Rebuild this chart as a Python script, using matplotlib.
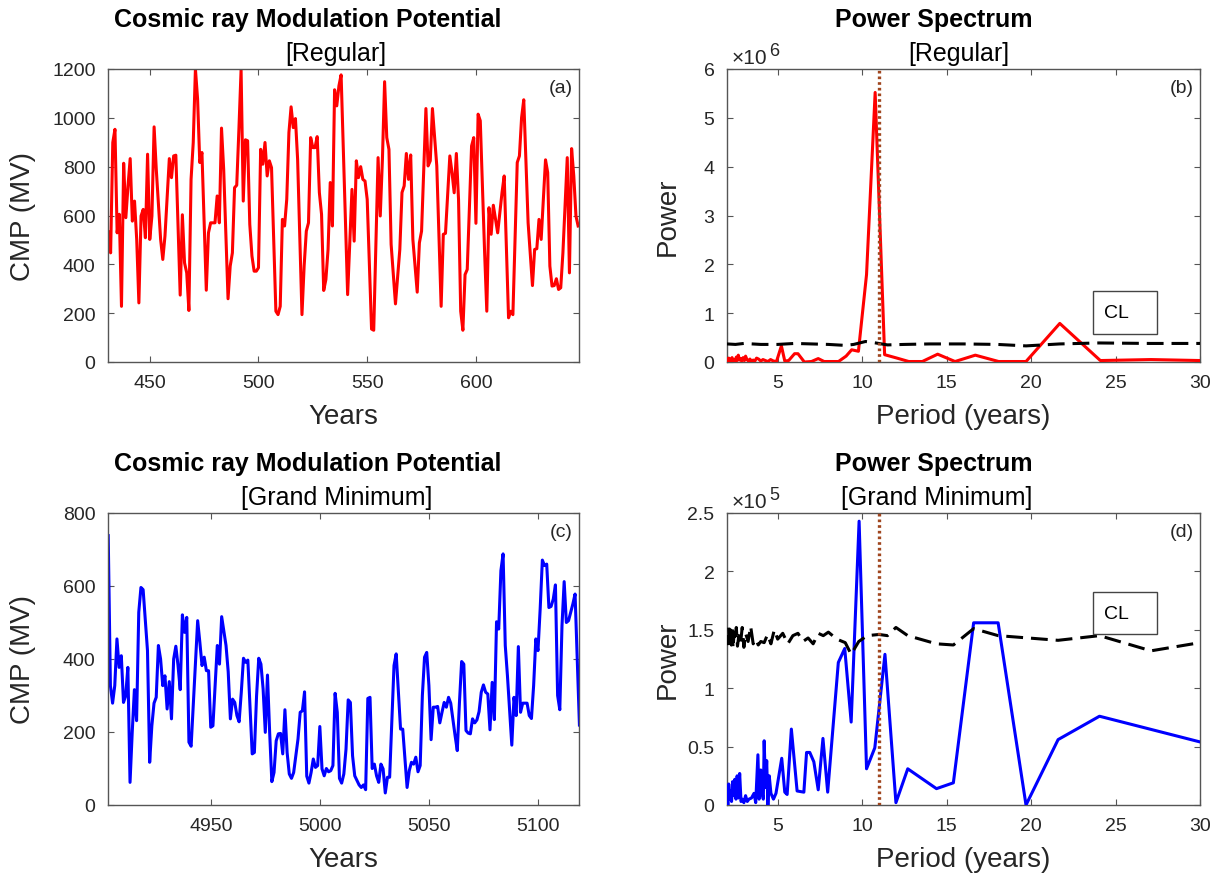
import matplotlib
matplotlib.use("Agg")
import matplotlib.pyplot as plt
from matplotlib.ticker import FuncFormatter
from matplotlib.patches import Rectangle

plt.rcParams['font.family'] = ['Liberation Sans', 'DejaVu Sans']

# ---------------- data ----------------
reg_years = [431, 432, 433, 434, 435, 436, 437, 438, 439, 440, 441, 442, 443, 444, 445, 446, 447, 448, 449, 450,
             451, 452, 453, 455, 456, 457, 459, 460, 461, 462, 464, 465, 466, 467, 468, 469, 470, 471, 472, 473,
             474, 476, 477, 478, 480, 481, 482, 483, 484, 486, 487, 488, 489, 490, 491, 492, 493, 494, 495, 496,
             497, 498, 499, 500, 501, 502, 503, 504, 505, 506, 508, 509, 510, 511, 512, 513, 514, 515, 516, 517,
             518, 520, 521, 522, 523, 524, 525, 526, 527, 528, 529, 530, 531, 532, 533, 534, 535, 536, 537, 538,
             541, 543, 544, 545, 546, 547, 548, 549, 550, 552, 553, 555, 556, 557, 558, 559, 560, 561, 563, 565,
             566, 567, 568, 569, 570, 571, 573, 574, 575, 577, 578, 579, 580, 582, 584, 585, 586, 588, 589, 590,
             591, 592, 593, 594, 595, 596, 598, 599, 600, 601, 602, 604, 605, 606, 607, 608, 610, 612, 613, 615,
             616, 617, 619, 620, 621, 622, 624, 626, 627, 628, 629, 630, 632, 633, 634, 635, 636, 637, 638, 639,
             640, 642, 643, 644, 645, 646, 647]
reg_cmp = [532, 447, 899, 953, 529, 605, 228, 814, 591, 721, 833, 577, 659, 502, 242, 598, 625, 509, 851, 502,
           598, 963, 789, 502, 420, 516, 833, 755, 844, 847, 274, 603, 406, 365, 211, 748, 899, 1200, 1077, 817,
           858, 294, 529, 570, 570, 680, 570, 958, 789, 259, 393, 447, 714, 724, 953, 1196, 659, 910, 906, 564,
           434, 372, 372, 386, 871, 810, 899, 762, 824, 796, 208, 194, 228, 584, 557, 666, 940, 1045, 960, 997,
           830, 194, 393, 536, 570, 919, 878, 878, 923, 694, 605, 293, 338, 461, 735, 557, 1115, 1049, 1131, 1176,
           276, 707, 495, 824, 755, 800, 748, 741, 666, 135, 130, 837, 598, 830, 1148, 919, 871, 482, 238, 461,
           694, 721, 854, 748, 848, 502, 286, 488, 536, 1038, 803, 824, 1038, 803, 228, 523, 527, 844, 776, 693,
           854, 666, 208, 130, 358, 379, 885, 919, 568, 1015, 988, 447, 208, 632, 523, 642, 529, 694, 762, 181,
           208, 194, 817, 844, 1001, 1074, 570, 313, 461, 464, 584, 502, 828, 776, 393, 311, 313, 341, 297, 304,
           447, 837, 365, 874, 762, 598, 557]

gm_years = [4903, 4904, 4905, 4906, 4907, 4908, 4909, 4910, 4911, 4912, 4913, 4914, 4915, 4916, 4917, 4918, 4919,
            4921, 4922, 4923, 4924, 4925, 4926, 4927, 4928, 4929, 4930, 4931, 4932, 4933, 4934, 4935, 4936, 4937,
            4938, 4939, 4940, 4941, 4944, 4945, 4946, 4947, 4948, 4949, 4950, 4951, 4953, 4954, 4955, 4957, 4958,
            4959, 4960, 4961, 4962, 4963, 4964, 4965, 4966, 4967, 4969, 4970, 4971, 4972, 4973, 4974, 4975, 4976,
            4977, 4978, 4979, 4980, 4981, 4982, 4983, 4984, 4985, 4986, 4987, 4988, 4990, 4991, 4992, 4993, 4994,
            4995, 4996, 4997, 4998, 4999, 5000, 5001, 5002, 5003, 5004, 5005, 5006, 5007, 5008, 5009, 5010, 5011,
            5012, 5013, 5014, 5015, 5016, 5018, 5019, 5020, 5021, 5022, 5023, 5024, 5025, 5026, 5027, 5028, 5029,
            5030, 5031, 5032, 5034, 5035, 5036, 5037, 5038, 5040, 5041, 5042, 5043, 5044, 5045, 5046, 5047, 5048,
            5049, 5050, 5051, 5052, 5053, 5054, 5055, 5056, 5057, 5058, 5059, 5060, 5062, 5063, 5064, 5065, 5066,
            5067, 5068, 5069, 5070, 5071, 5072, 5073, 5074, 5075, 5076, 5077, 5078, 5079, 5080, 5081, 5082, 5083,
            5084, 5085, 5086, 5088, 5089, 5090, 5091, 5092, 5093, 5095, 5096, 5097, 5098, 5099, 5100, 5101, 5102,
            5103, 5104, 5105, 5106, 5107, 5108, 5109, 5110, 5111, 5112, 5113, 5114, 5115, 5116, 5117, 5118, 5119]
gm_cmp = [738, 327, 279, 327, 455, 377, 409, 281, 299, 377, 62, 199, 316, 231, 528, 596, 590,
          423, 117, 217, 279, 295, 437, 400, 327, 354, 263, 338, 236, 400, 435, 382, 316, 521,
          473, 514, 172, 161, 505, 446, 382, 405, 368, 368, 213, 217, 437, 386, 516, 437, 365,
          236, 290, 281, 245, 228, 309, 402, 391, 397, 140, 144, 299, 402, 386, 318, 199, 356,
          199, 64, 89, 176, 195, 196, 140, 261, 144, 85, 73, 89, 181, 254, 258, 310, 79,
          60, 89, 126, 103, 108, 215, 99, 80, 100, 91, 94, 108, 306, 254, 73, 60, 85,
          153, 288, 281, 135, 80, 55, 48, 55, 42, 292, 295, 100, 112, 80, 62, 112, 99,
          33, 76, 76, 382, 414, 309, 208, 208, 48, 94, 117, 112, 131, 91, 108, 300, 405,
          418, 327, 179, 268, 268, 270, 225, 254, 281, 268, 295, 279, 190, 149, 281, 393, 386,
          204, 197, 195, 236, 225, 233, 256, 309, 329, 309, 304, 206, 336, 234, 502, 482, 642,
          688, 437, 354, 164, 295, 245, 434, 254, 279, 279, 245, 237, 327, 455, 423, 537, 671,
          656, 660, 541, 544, 564, 603, 300, 261, 491, 612, 500, 505, 528, 551, 578, 400, 219]

# Power spectrum, regular (power in units of 1e6)
reg_period = [2.0, 2.05, 2.1, 2.15, 2.2, 2.25, 2.3, 2.36, 2.42, 2.48, 2.55, 2.6, 2.67, 2.74, 2.8, 2.87, 2.95,
              3.03, 3.1, 3.18, 3.27, 3.36, 3.45, 3.55, 3.65, 3.75, 3.87, 4.0, 4.13, 4.27, 4.42, 4.58, 4.75,
              4.93, 5.22, 5.42, 5.65, 6.0, 6.2, 6.58, 7.0, 7.4, 7.75, 8.15, 8.6, 9.05, 9.38, 9.78, 10.26,
              10.77, 11.33, 12.06, 12.76, 13.56, 14.47, 15.5, 16.7, 18.08, 19.7, 21.7, 24.1, 27.1, 30.0]
reg_power = [0.05, 0.02, 0.08, 0.03, 0.06, 0.01, 0.09, 0.02, 0.05, 0.01, 0.10, 0.03, 0.14, 0.04, 0.07, 0.02, 0.09,
             0.03, 0.12, 0.05, 0.02, 0.06, 0.01, 0.04, 0.02, 0.08, 0.06, 0.02, 0.05, 0.03, 0.01, 0.05, 0.02,
             0.01, 0.33, 0.02, 0.03, 0.17, 0.17, 0.0, 0.01, 0.07, 0.01, 0.01, 0.01, 0.12, 0.25, 0.22, 1.79,
             5.52, 0.15, 0.08, 0.01, 0.01, 0.16, 0.01, 0.14, 0.01, 0.01, 0.79, 0.03, 0.05, 0.03]
reg_cl_period = [2.0, 2.5, 3.0, 3.5, 4.0, 5.0, 6.0, 7.0, 8.0, 9.0, 9.5, 10.2, 10.8, 11.5, 12.5, 14.0,
                 16.0, 18.0, 19.7, 21.7, 24.0, 27.0, 30.0]
reg_cl = [0.37, 0.36, 0.38, 0.37, 0.36, 0.36, 0.38, 0.37, 0.36, 0.34, 0.36, 0.42, 0.39, 0.35, 0.36, 0.37,
          0.37, 0.36, 0.33, 0.37, 0.39, 0.38, 0.38]

# Power spectrum, grand minimum (power in units of 1e5)
gm_period = [2.0, 2.05, 2.1, 2.15, 2.2, 2.27, 2.33, 2.4, 2.46, 2.53, 2.6, 2.67, 2.75, 2.83, 2.9, 3.0, 3.1,
             3.2, 3.3, 3.45, 3.6, 3.7, 3.83, 3.9, 4.0, 4.08, 4.15, 4.2, 4.28, 4.35, 4.42, 4.5, 4.6, 4.75,
             4.9, 5.24, 5.42, 5.56, 5.81, 6.15, 6.55, 6.71, 6.9, 7.14, 7.4, 7.68, 7.96, 8.59, 8.97, 9.35,
             9.82, 10.26, 10.75, 11.35, 12.0, 12.7, 14.4, 15.4, 16.6, 18.05, 19.7, 21.6, 24.05, 30.0]
gm_power = [0.12, 0.0, 0.18, 0.05, 0.12, 0.03, 0.20, 0.08, 0.22, 0.05, 0.25, 0.06, 0.27, 0.03, 0.05, 0.02, 0.08,
            0.03, 0.05, 0.06, 0.10, 0.02, 0.43, 0.05, 0.30, 0.10, 0.05, 0.55, 0.15, 0.38, 0.0, 0.25, 0.10, 0.05,
            0.10, 0.40, 0.11, 0.09, 0.65, 0.12, 0.11, 0.45, 0.45, 0.37, 0.13, 0.57, 0.11, 1.22, 1.34, 0.71,
            2.43, 0.31, 0.49, 1.29, 0.02, 0.31, 0.14, 0.19, 1.56, 1.56, 0.0, 0.56, 0.76, 0.54]
gm_cl_period = [2.0, 2.05, 2.1, 2.15, 2.2, 2.25, 2.3, 2.36, 2.42, 2.48, 2.55, 2.62, 2.7, 2.8, 2.9, 3.0, 3.1,
                3.25, 3.4, 3.55, 3.7, 3.85, 4.0, 4.2, 4.4, 4.6, 4.8, 5.0, 5.3, 5.6, 5.9, 6.2, 6.5, 6.8,
                7.1, 7.4, 7.7, 8.0, 8.5, 9.0, 9.35, 9.8, 10.3, 11.0, 11.5, 12.0, 12.7, 14.4, 15.4, 16.6,
                18.05, 21.6, 24.05, 27.1, 30.0]
gm_cl = [1.45, 1.38, 1.52, 1.35, 1.50, 1.37, 1.53, 1.34, 1.48, 1.40, 1.52, 1.36, 1.45, 1.38, 1.52, 1.35, 1.47,
         1.40, 1.53, 1.38, 1.42, 1.37, 1.40, 1.39, 1.46, 1.38, 1.50, 1.42, 1.47, 1.38, 1.45, 1.47, 1.40, 1.43,
         1.38, 1.47, 1.45, 1.48, 1.42, 1.39, 1.29, 1.40, 1.45, 1.46, 1.45, 1.52, 1.45, 1.38, 1.37, 1.51,
         1.45, 1.41, 1.45, 1.32, 1.39]

solar_cycle = 11.0
reg_scale = 1e6
gm_scale = 1e5

# ---------------- figure ----------------
W, H = 1217, 879
fig = plt.figure(figsize=(W / 100, H / 100), dpi=100)


def px_axes(l, t, r, b):
    return fig.add_axes([l / W, 1 - b / H, (r - l) / W, (b - t) / H])


ax_a = px_axes(108, 70, 579, 363)
ax_b = px_axes(727, 70, 1200, 363)
ax_c = px_axes(108, 514, 579, 806)
ax_d = px_axes(727, 514, 1200, 806)

TXT = '#262626'
SPINE = '#555555'


def style(ax):
    for s in ax.spines.values():
        s.set_color(SPINE)
        s.set_linewidth(1.0)
    ax.tick_params(direction='in', length=4, width=0.8, color=SPINE, labelsize=14,
                   labelcolor=TXT, pad=9, top=True, right=True)


for ax in (ax_a, ax_b, ax_c, ax_d):
    style(ax)

# (a)
ax_a.plot(reg_years, reg_cmp, color='#ff0000', lw=2.2)
ax_a.set_xlim(430.8, 647.4)
ax_a.set_ylim(0, 1200)
ax_a.set_xticks([450, 500, 550, 600])
ax_a.set_yticks(range(0, 1201, 200))

# (c)
ax_c.plot(gm_years, gm_cmp, color='#0000ff', lw=2.2)
ax_c.set_xlim(4902.9, 5118.8)
ax_c.set_ylim(0, 800)
ax_c.set_xticks([4950, 5000, 5050, 5100])
ax_c.set_yticks(range(0, 801, 200))

# (b)
ax_b.plot(reg_period, [v * reg_scale for v in reg_power], color='#ff0000', lw=2.2, zorder=3)
ax_b.plot(reg_cl_period, [v * reg_scale for v in reg_cl], color='black', lw=2.2,
          dashes=(5.5, 2.6), zorder=4)
ax_b.axvline(solar_cycle, color='#a0461e', lw=2.4, ls=(0, (0.8, 0.9)), zorder=5)
ax_b.set_xlim(2, 30)
ax_b.set_ylim(0, 6 * reg_scale)
ax_b.set_xticks([5, 10, 15, 20, 25, 30])
ax_b.set_yticks([i * reg_scale for i in range(7)])
ax_b.yaxis.set_major_formatter(FuncFormatter(lambda v, p: f'{v / reg_scale:g}'))

# (d)
ax_d.plot(gm_period, [v * gm_scale for v in gm_power], color='#0000ff', lw=2.2, zorder=3)
ax_d.plot(gm_cl_period, [v * gm_scale for v in gm_cl], color='black', lw=2.2,
          dashes=(5.5, 2.6), zorder=4)
ax_d.axvline(solar_cycle, color='#a0461e', lw=2.4, ls=(0, (0.8, 0.9)), zorder=5)
ax_d.set_xlim(2, 30)
ax_d.set_ylim(0, 2.5 * gm_scale)
ax_d.set_xticks([5, 10, 15, 20, 25, 30])
ax_d.set_yticks([i * 0.5 * gm_scale for i in range(6)])
ax_d.yaxis.set_major_formatter(FuncFormatter(lambda v, p: f'{v / gm_scale:g}'))

# exponent labels (x10^n above the y axis)
for ax, ex in ((ax_b, '6'), (ax_d, '5')):
    t1 = ax.text(0.0106, 1.0205, '\u00d710', transform=ax.transAxes, ha='left',
                 va='baseline', fontsize=15, color=TXT)
    ax.annotate(ex, xy=(1.04, 0.62), xycoords=t1, ha='left', va='baseline',
                fontsize=13, color=TXT)

# axis labels
for ax, xl, yl in ((ax_a, 'Years', 'CMP (MV)'), (ax_c, 'Years', 'CMP (MV)'),
                   (ax_b, 'Period (years)', 'Power'), (ax_d, 'Period (years)', 'Power')):
    ax.set_xlabel(xl, fontsize=20, color=TXT)
    ax.set_ylabel(yl, fontsize=20, color=TXT)
    ax.xaxis.set_label_coords(0.5, -0.14)

ax_a.yaxis.set_label_coords(-0.152, 0.5)
ax_c.yaxis.set_label_coords(-0.152, 0.5)
ax_b.yaxis.set_label_coords(-0.098, 0.5)
ax_d.yaxis.set_label_coords(-0.098, 0.5)

# panel letters
for ax, lab in ((ax_a, '(a)'), (ax_b, '(b)'), (ax_c, '(c)'), (ax_d, '(d)')):
    ax.text(0.987, 0.965, lab, transform=ax.transAxes, ha='right', va='top', fontsize=14, color=TXT)

# CL boxes
for ax, y0, y1, yt in ((ax_b, 0.0956, 0.242, 0.17), (ax_d, 0.586, 0.729, 0.657)):
    ax.add_patch(Rectangle((0.774, y0), 0.135, y1 - y0, transform=ax.transAxes,
                           facecolor='white', edgecolor='#444444', lw=1.0, zorder=6))
    ax.text(0.797, yt, 'CL', transform=ax.transAxes, ha='left', va='center', fontsize=14,
            color='black', zorder=7)


# titles
def ftext(x, y, s, **kw):
    fig.text(x / W, 1 - y / H, s, ha='center', va='baseline', fontsize=18, color='black', **kw)


ftext(307.5, 27, 'Cosmic ray Modulation Potential', fontweight='bold')
ftext(335.5, 61, '[Regular]')
ftext(934, 27, 'Power Spectrum', fontweight='bold')
ftext(959, 61, '[Regular]')
ftext(307.5, 471, 'Cosmic ray Modulation Potential', fontweight='bold')
ftext(337, 505, '[Grand Minimum]')
ftext(934, 471, 'Power Spectrum', fontweight='bold')
ftext(937, 505, '[Grand Minimum]')

fig.savefig('out.png', dpi=100)
